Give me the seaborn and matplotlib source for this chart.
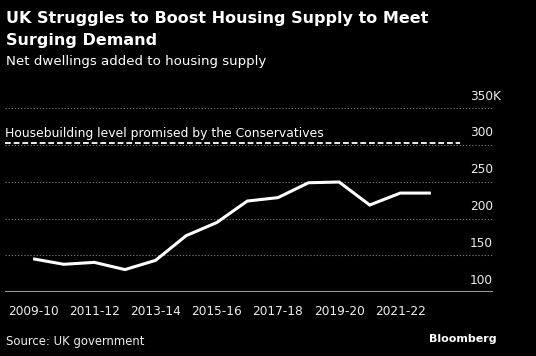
import matplotlib
matplotlib.use("Agg")
import matplotlib.pyplot as plt
import matplotlib.transforms as mtransforms
import seaborn as sns
import pandas as pd

years = ["2009-10", "2010-11", "2011-12", "2012-13", "2013-14", "2014-15", "2015-16",
         "2016-17", "2017-18", "2018-19", "2019-20", "2020-21", "2021-22", "2022-23"]
net_dwellings = [145.4, 138.0, 140.6, 130.8, 143.3, 176.8, 194.6,
                 223.8, 228.4, 248.6, 249.6, 218.4, 234.6, 234.6]
y_ticks = [100, 150, 200, 250, 300, 350]
y_tick_labels = ["100", "150", "200", "250", "300", "350K"]
x_tick_labels = ["2009-10", "2011-12", "2013-14", "2015-16", "2017-18", "2019-20", "2021-22"]
promise_level = 300

df = pd.DataFrame({"idx": range(len(years)), "year": years, "value": net_dwellings})

sns.set_style("dark")
plt.rcParams["font.family"] = ["DejaVu Sans"]

fig = plt.figure(figsize=(5.36, 3.56), dpi=100, facecolor="black")
W, H = 536, 356
ax = fig.add_axes([5 / W, (H - 292.3) / H, 488 / W, (292.3 - 108) / H])
ax.set_facecolor("black")

sns.lineplot(data=df, x="idx", y="value", ax=ax, color="white", linewidth=2.2,
             solid_joinstyle="miter", solid_capstyle="butt")

ax.set_xlim(-0.92, 15.03)
ax.set_ylim(100, 350)

# gridlines
for v in y_ticks[1:]:
    ax.axhline(v, color="#6e6e6e", linestyle=(0, (1.2, 1.6)), linewidth=0.8, zorder=0)
ax.axhline(100, color="#9a9a9a", linewidth=1.5, zorder=1)

# promised level
ax.plot([-0.92, 13.95], [promise_level + 2.5, promise_level + 2.5], color="white",
        linestyle=(0, (3.2, 1.6)), linewidth=1.3, zorder=2)
ax.text(-0.92, promise_level + 15.5, "Housebuilding level promised by the Conservatives",
        color="white", fontsize=8.9, ha="left", va="center", zorder=3)

for s in ax.spines.values():
    s.set_visible(False)
ax.grid(False)

# x ticks
ax.set_xticks(range(0, 14, 2))
ax.set_xticklabels(x_tick_labels)
ax.tick_params(axis="x", colors="#9a9a9a", length=4, width=1, direction="out", pad=5.5,
               labelcolor="#eeeeee", labelsize=8.7)
ax.set_xlabel("")
ax.set_ylabel("")

# y ticks on right, above gridlines
ax.set_yticks(y_ticks)
ax.set_yticklabels(y_tick_labels)
ax.yaxis.tick_right()
ax.tick_params(axis="y", length=0, pad=0, labelcolor="#eeeeee", labelsize=8.7,
               left=False, right=False, labelleft=False, labelright=True)
for lab in ax.get_yticklabels():
    dx = 8.5 / 100 if lab.get_text().endswith("K") else 0
    offset = mtransforms.ScaledTranslation(dx, 13.5 / 100, fig.dpi_scale_trans)
    lab.set_horizontalalignment("right")
    lab.set_transform(lab.get_transform() + offset)

# titles
fig.text(6 / W, 1 - 18.5 / H, "UK Struggles to Boost Housing Supply to Meet",
         color="white", fontsize=11.5, fontweight="bold", ha="left", va="center")
fig.text(6 / W, 1 - 40 / H, "Surging Demand",
         color="white", fontsize=11.5, fontweight="bold", ha="left", va="center")
fig.text(6 / W, 1 - 61 / H, "Net dwellings added to housing supply",
         color="white", fontsize=9.6, ha="left", va="center")

# footer
fig.text(6 / W, 1 - 341 / H, "Source: UK government", color="#eeeeee",
         fontsize=8.4, ha="left", va="center")
fig.text(497 / W, 1 - 339.5 / H, "Bloomberg", color="white", fontsize=8.0,
         fontweight="bold", ha="right", va="center")

fig.savefig("out.png", dpi=100, facecolor="black")
